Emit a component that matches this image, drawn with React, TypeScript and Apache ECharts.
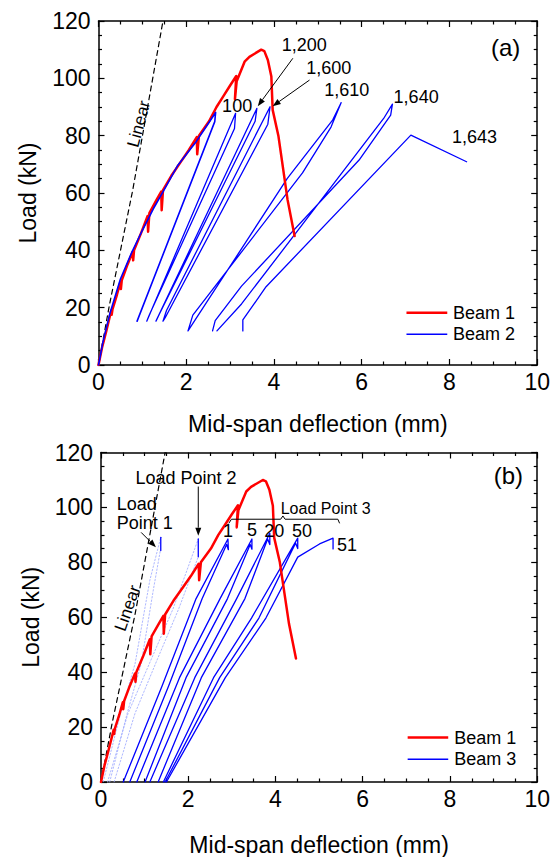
import React, { useEffect, useRef } from "react";
import * as echarts from "echarts";

type Pt = [number, number];

// ---- axes ----
const xTickValues = [0, 2, 4, 6, 8, 10];
const yTickValues = [0, 20, 40, 60, 80, 100, 120];

// ---- shared reference data ----
const beam1: Pt[] = [
  [0, 0], [0.08, 6], [0.18, 12], [0.29, 19], [0.3, 17.5], [0.32, 19.5], [0.42, 24.5],
  [0.5, 29], [0.51, 26.5], [0.53, 29.5], [0.66, 35], [0.78, 39.5], [0.79, 36.5], [0.81, 40],
  [0.97, 46], [1.12, 52], [1.13, 46.5], [1.16, 53], [1.32, 57.5], [1.43, 60.5], [1.44, 54],
  [1.47, 61], [1.66, 66], [1.86, 70.5], [2.06, 75], [2.24, 79.5], [2.25, 73.5], [2.29, 80],
  [2.52, 85], [2.69, 90], [2.84, 93.6], [3.0, 97.5], [3.14, 100.8], [3.11, 92.7], [3.15, 99],
  [3.33, 105.8], [3.44, 107.5], [3.71, 110], [3.78, 109.5], [3.86, 106.4], [3.94, 100.6],
  [3.97, 89], [4.1, 80], [4.31, 57.6], [4.47, 45],
];
const linearLine: Pt[] = [[0, 0], [0.25, 21], [0.78, 61], [1.47, 120]];

// ---- panel (a): Beam 2 ----
const beam2Initial: Pt[] = [
  [0, 0], [0.1, 8], [0.26, 18], [0.5, 30], [0.75, 39], [1.0, 47], [1.25, 54.5], [1.47, 60.4],
  [1.8, 69.5], [2.23, 78], [2.45, 83], [2.67, 88.1], [2.65, 84.9], [0.88, 15.3],
];
const beam2Cycle100: Pt[] = [[1.1, 15.3], [3.125, 87.8], [3.1, 82.5], [1.16, 17.5], [1.1, 15.3]];
const beam2Cycle1200: Pt[] = [[1.31, 15.3], [3.61, 89.5], [3.57, 85], [1.38, 17.5], [1.31, 15.3]];
const beam2Cycle1600: Pt[] = [[1.47, 15.3], [1.55, 19], [3.91, 90.1], [3.86, 84], [1.52, 16.5], [1.47, 15.3]];
const beam2Cycle1610: Pt[] = [
  [2.04, 11.9], [2.15, 17.4], [4.65, 67], [5.3, 83], [5.53, 91.5], [5.34, 85.5], [4.3, 65], [2.04, 11.9],
];
const beam2Cycle1640: Pt[] = [
  [2.6, 11.9], [2.66, 15.5], [3.26, 27.5], [5.94, 71.5], [6.66, 87.2], [6.7, 91.0], [6.5, 86],
  [3.26, 21.3], [2.7, 11.9],
];
const beam2Cycle1643: Pt[] = [[3.29, 11.9], [3.29, 15.7], [3.82, 27.3], [7.12, 80.2], [8.39, 70.9]];

// ---- panel (b): Beam 3 ----
const beam3Cycle1: Pt[] = [
  [0.51, 0], [1.4, 35], [2.18, 66.8], [2.91, 88.5], [2.92, 84.6], [2.88, 86.5], [2.32, 66.8], [1.55, 35], [0.66, 0],
];
const beam3Cycle5: Pt[] = [
  [0.82, 0], [1.8, 38], [2.73, 66.8], [3.46, 88.5], [3.46, 84.8], [3.42, 86.5], [2.9, 66.8], [1.95, 38], [1.01, 0],
];
const beam3Cycle20: Pt[] = [
  [1.12, 0], [2.15, 38], [3.11, 66.8], [3.87, 90.6], [3.87, 86.5], [3.82, 88.5], [3.3, 66.8], [2.3, 38], [1.31, 0],
];
const beam3Cycle50: Pt[] = [
  [1.43, 0], [2.58, 38], [3.45, 59.7], [4.51, 88.8], [4.51, 85], [4.46, 87], [3.62, 59.7], [2.72, 38], [1.47, 0],
];
const beam3Cycle51: Pt[] = [
  [1.5, 0], [2.85, 38], [3.78, 59.7], [4.51, 81.9], [5.01, 86.7], [5.32, 88.8], [5.32, 84.9],
];
const loadPoint1Dotted: Pt[] = [[0.05, 0], [0.45, 25], [0.78, 43], [1.12, 73.5], [1.37, 89.1]];
const loadPoint1DottedB: Pt[] = [[0.2, 0], [0.6, 25], [0.92, 43], [1.2, 70], [1.36, 84.3]];
const loadPoint1Tick: Pt[] = [[1.37, 89.1], [1.37, 84.3]];
const loadPoint2Dotted: Pt[] = [[0.15, 0], [0.62, 25], [1.16, 45], [1.65, 63], [2.15, 85], [2.23, 88.5]];
const loadPoint2DottedB: Pt[] = [[0.3, 0], [0.78, 25], [1.3, 45], [1.78, 63], [2.23, 82]];
const loadPoint2Tick: Pt[] = [[2.23, 88.5], [2.23, 82]];

// ---- annotation texts ----
const cycleLabelsA = ["100", "1,200", "1,600", "1,610", "1,640", "1,643"];
const cycleLabelsB = ["1", "5", "20", "50", "51"];

const FONT = "'Liberation Sans', Arial, Helvetica, sans-serif";
const RED = "#ff0000";
const BLUE = "#0000ff";

function lineSeries(data: Pt[], grid: number, color: string, width: number, type: any = "solid", opacity = 1, z = 2) {
  return {
    type: "line",
    xAxisIndex: grid * 2,
    yAxisIndex: grid * 2,
    data,
    showSymbol: false,
    symbol: "none",
    silent: true,
    z,
    lineStyle: { color, width, type, opacity, cap: "round", join: "round" },
  };
}

function axisPair(grid: number, isX: boolean, name: string, nameGap: number) {
  const vals = isX ? xTickValues : yTickValues;
  const common = {
    type: "value",
    gridIndex: grid,
    min: vals[0],
    max: vals[vals.length - 1],
    interval: vals[1] - vals[0],
    axisLine: { show: true, onZero: false, lineStyle: { color: "#000", width: 1.5 } },
    axisTick: { show: true, inside: true, length: 6, lineStyle: { color: "#000", width: 1.2 } },
    minorTick: { show: true, splitNumber: 4, length: 3.5, lineStyle: { color: "#000", width: 1.2 } },
    splitLine: { show: false },
    minorSplitLine: { show: false },
  };
  const main = {
    ...common,
    position: isX ? "bottom" : "left",
    name,
    nameLocation: "middle",
    nameGap,
    nameTextStyle: { fontSize: 23, fontFamily: FONT, color: "#000" },
    axisLabel: { show: true, fontSize: 23, fontFamily: FONT, color: "#000", margin: isX ? 5 : 8 },
  };
  const mirror = {
    ...common,
    position: isX ? "top" : "right",
    axisLabel: { show: false },
  };
  return [main, mirror];
}

export default function App() {
  const ref = useRef<HTMLDivElement>(null);

  useEffect(() => {
    if (!ref.current) return;
    const chart = echarts.init(ref.current, undefined, { renderer: "svg" });

    const series: any[] = [
      // panel (a)
      lineSeries(linearLine, 0, "#000", 1.2, [5, 4], 1, 1),
      lineSeries(beam2Cycle100, 0, BLUE, 1.3),
      lineSeries(beam2Cycle1200, 0, BLUE, 1.3),
      lineSeries(beam2Cycle1600, 0, BLUE, 1.3),
      lineSeries(beam2Cycle1610, 0, BLUE, 1.3),
      lineSeries(beam2Cycle1640, 0, BLUE, 1.3),
      lineSeries(beam2Cycle1643, 0, BLUE, 1.3),
      lineSeries(beam1, 0, RED, 2.5, "solid", 1, 3),
      lineSeries(beam2Initial, 0, BLUE, 1.6, "solid", 1, 4),
      // panel (b)
      lineSeries(linearLine, 1, "#000", 1.2, [5, 4], 1, 1),
      lineSeries(loadPoint1Dotted, 1, "#9aa6ff", 1, [1.5, 2], 0.8, 1),
      lineSeries(loadPoint1DottedB, 1, "#9aa6ff", 1, [1.5, 2], 0.8, 1),
      lineSeries(loadPoint2Dotted, 1, "#9aa6ff", 1, [1.5, 2], 0.8, 1),
      lineSeries(loadPoint2DottedB, 1, "#9aa6ff", 1, [1.5, 2], 0.8, 1),
      lineSeries(loadPoint1Tick, 1, BLUE, 1.3),
      lineSeries(loadPoint2Tick, 1, BLUE, 1.3),
      lineSeries(beam3Cycle1, 1, BLUE, 1.3),
      lineSeries(beam3Cycle5, 1, BLUE, 1.3),
      lineSeries(beam3Cycle20, 1, BLUE, 1.3),
      lineSeries(beam3Cycle50, 1, BLUE, 1.3),
      lineSeries(beam3Cycle51, 1, BLUE, 1.3),
      lineSeries(beam1, 1, RED, 2.5, "solid", 1, 3),
    ];

    const [xa0, xa0t] = axisPair(0, true, "Mid-span deflection (mm)", 47);
    const [xa1, xa1t] = axisPair(1, true, "Mid-span deflection (mm)", 51);
    const [ya0, ya0r] = axisPair(0, false, "Load (kN)", 59);
    const [ya1, ya1r] = axisPair(1, false, "Load (kN)", 59);

    chart.setOption({
      animation: false,
      backgroundColor: "#fff",
      textStyle: { fontFamily: FONT },
      grid: [
        { left: 98.5, top: 21, width: 440, height: 344, containLabel: false },
        { left: 101, top: 452.5, width: 437, height: 333.5, containLabel: false },
      ],
      xAxis: [xa0, xa0t, xa1, xa1t],
      yAxis: [ya0, ya0r, ya1, ya1r],
      series,
    });

    const px = (g: number, p: Pt) => chart.convertToPixel({ gridIndex: g } as any, p) as number[];
    const text = (g: number, p: Pt, t: string, size: number, align = "center", rot = 0) => {
      const q = px(g, p);
      return {
        type: "text",
        x: q[0],
        y: q[1],
        rotation: (rot * Math.PI) / 180,
        silent: true,
        z: 100,
        style: {
          text: t,
          fontSize: size,
          fontFamily: FONT,
          fill: "#000",
          textAlign: align,
          align,
          textVerticalAlign: "middle",
          verticalAlign: "middle",
        },
      };
    };
    const arrow = (g: number, a: Pt, b: Pt) => {
      const p0 = px(g, a);
      const p1 = px(g, b);
      const ang = Math.atan2(p1[1] - p0[1], p1[0] - p0[0]);
      const L = 8, W = 3;
      const bx = p1[0] - L * Math.cos(ang), by = p1[1] - L * Math.sin(ang);
      const nx = -Math.sin(ang), ny = Math.cos(ang);
      return [
        { type: "line", silent: true, z: 100, shape: { x1: p0[0], y1: p0[1], x2: bx, y2: by }, style: { stroke: "#000", lineWidth: 1 } },
        {
          type: "polygon", silent: true, z: 100,
          shape: { points: [[p1[0], p1[1]], [bx + W * nx, by + W * ny], [bx - W * nx, by - W * ny]] },
          style: { fill: "#000" },
        },
      ];
    };
    const legend = (g: number, y: number, color: string, width: number, label: string, x0: number, x1: number, xt: number) => {
      const a = px(g, [x0, y]);
      const b = px(g, [x1, y]);
      return [
        { type: "line", silent: true, z: 100, shape: { x1: a[0], y1: a[1], x2: b[0], y2: b[1] }, style: { stroke: color, lineWidth: width } },
        text(g, [xt, y], label, 18, "left"),
      ];
    };

    const bracketPts: Pt[] = [[2.93, 94.2], [2.99, 95.7], [4.12, 95.7], [4.17, 96.9], [4.22, 95.7], [5.43, 95.7], [5.47, 94.2]];

    const graphic: any[] = [
      // panel (a)
      text(0, [9.28, 110.9], "(a)", 24),
      text(0, [0.92, 84.1], "Linear", 17, "center", 75),
      text(0, [3.16, 90.4], cycleLabelsA[0], 18),
      text(0, [4.69, 111.6], cycleLabelsA[1], 18),
      text(0, [5.25, 103.5], cycleLabelsA[2], 18),
      text(0, [5.66, 95.9], cycleLabelsA[3], 18),
      text(0, [7.24, 93.6], cycleLabelsA[4], 18),
      text(0, [8.57, 79.6], cycleLabelsA[5], 18),
      ...arrow(0, [4.43, 107], [3.63, 90.3]),
      ...arrow(0, [4.81, 99.4], [3.97, 90.3]),
      ...legend(0, 18.2, RED, 2.5, "Beam 1", 7.02, 7.95, 8.08),
      ...legend(0, 10.7, BLUE, 1.5, "Beam 2", 7.02, 7.95, 8.08),
      // panel (b)
      text(1, [9.34, 111.5], "(b)", 24),
      text(1, [0.61, 63.3], "Linear", 17, "center", 71),
      text(1, [1.95, 110.7], "Load Point 2", 18),
      text(1, [0.36, 101.1], "Load", 18, "left"),
      text(1, [0.36, 94.5], "Point 1", 18, "left"),
      ...arrow(1, [0.92, 90.9], [1.26, 85.5]),
      ...arrow(1, [2.23, 107.6], [2.23, 89.7]),
      text(1, [5.15, 99.6], "Load Point 3", 16),
      {
        type: "polyline", silent: true, z: 100,
        shape: { points: bracketPts.map((p) => px(1, p)) },
        style: { stroke: "#000", lineWidth: 1, fill: null },
      },
      text(1, [2.91, 91.5], cycleLabelsB[0], 18),
      text(1, [3.46, 91.8], cycleLabelsB[1], 18),
      text(1, [3.97, 91.5], cycleLabelsB[2], 18),
      text(1, [4.61, 91.5], cycleLabelsB[3], 18),
      text(1, [5.64, 86.3], cycleLabelsB[4], 18),
      ...legend(1, 16.2, RED, 2.5, "Beam 1", 7.03, 7.96, 8.1),
      ...legend(1, 8.3, BLUE, 1.5, "Beam 3", 7.03, 7.96, 8.1),
    ];

    chart.setOption({ graphic });

    return () => chart.dispose();
  }, []);

  return (
    <div
      ref={ref}
      style={{ position: "absolute", left: 0, top: 0, width: 553, height: 857, background: "#fff" }}
    />
  );
}
